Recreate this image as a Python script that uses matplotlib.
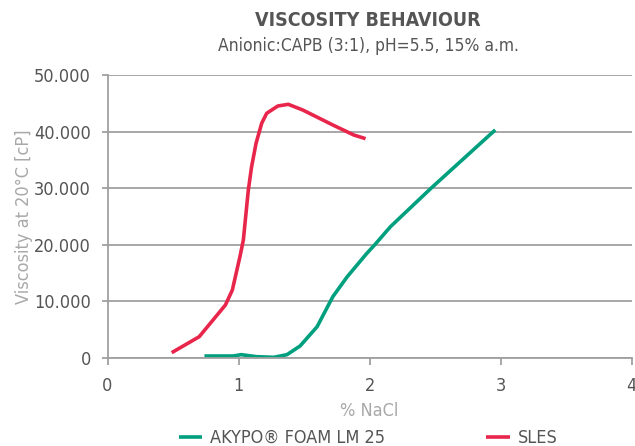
import matplotlib
matplotlib.use("Agg")
import matplotlib.pyplot as plt
from matplotlib.ticker import FuncFormatter

# data
nacl_akypo = [0.74, 0.96, 1.02, 1.14, 1.27, 1.37, 1.47, 1.60, 1.72, 1.83, 1.98, 2.04, 2.16, 2.47, 2.96]
visc_akypo = [350, 350, 590, 230, 120, 590, 2120, 5530, 10830, 14360, 18500, 20000, 23200, 30000, 40300]

nacl_sles = [0.49, 0.70, 0.90, 0.953, 1.011, 1.037, 1.075, 1.10, 1.134, 1.177, 1.215, 1.30, 1.38, 1.49, 1.72, 1.88, 1.97]
visc_sles = [940, 3760, 9360, 12010, 17900, 20850, 29680, 33800, 37930, 41470, 43230, 44520, 44820, 43820, 41170, 39400, 38750]

x_ticks = [0, 1, 2, 3, 4]
y_ticks = [0, 10000, 20000, 30000, 40000, 50000]

GREEN = "#00a07f"
RED = "#e8264b"
DARK = "#555555"
LIGHT = "#a8a8a8"
GRID = "#a0a0a0"

plt.rcParams['font.family'] = ['DejaVu Sans']
plt.rcParams['font.stretch'] = 'condensed'

fig = plt.figure(figsize=(6.35, 4.46), dpi=100)
ax = fig.add_axes([107.5 / 635, 88 / 446, 524 / 635, 283 / 446])

ax.plot(nacl_akypo, visc_akypo, color=GREEN, lw=2.6, solid_capstyle='butt', label="AKYPO® FOAM LM 25")
ax.plot(nacl_sles, visc_sles, color=RED, lw=2.6, solid_capstyle='butt', label="SLES")

ax.set_xlim(0, 4)
ax.set_ylim(0, 50000)
ax.set_xticks(x_ticks)
ax.set_yticks(y_ticks)
ax.yaxis.set_major_formatter(FuncFormatter(lambda v, p: "0" if v == 0 else f"{int(v):,}".replace(",", ".")))

ax.grid(axis='y', color=GRID, lw=1.3)
ax.set_axisbelow(True)
for s in ['top', 'right']:
    ax.spines[s].set_visible(False)
ax.spines['left'].set_color(GRID)
ax.spines['bottom'].set_color(GRID)
ax.spines['left'].set_linewidth(1.3)
ax.spines['bottom'].set_linewidth(1.3)
ax.tick_params(axis='x', colors=GRID, length=5, width=1.3, labelcolor=DARK, labelsize=13, pad=9)
ax.tick_params(axis='y', colors=GRID, length=4, width=1.3, labelcolor=DARK, labelsize=13, pad=8)

ax.set_xlabel("% NaCl", color=LIGHT, fontsize=13, labelpad=5)
ax.set_ylabel("Viscosity at 20°C [cP]", color=LIGHT, fontsize=13, labelpad=1)

fig.text(0.58, 0.955, "VISCOSITY BEHAVIOUR", ha='center', va='center', fontsize=14,
         fontweight='bold', color=DARK)
fig.text(0.58, 0.897, "Anionic:CAPB (3:1), pH=5.5, 15% a.m.", ha='center', va='center',
         fontsize=12.5, color=DARK)

leg = fig.legend(loc='center', bbox_to_anchor=(0.58, 0.018), ncol=2, frameon=False,
                 fontsize=13, handlelength=1.3, handletextpad=0.45, columnspacing=5.6)
for t in leg.get_texts():
    t.set_color(DARK)

fig.savefig("out.png", dpi=100)
